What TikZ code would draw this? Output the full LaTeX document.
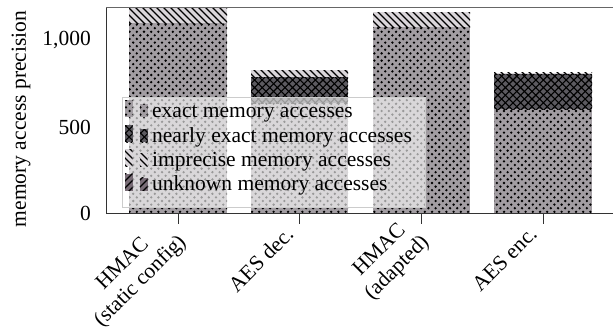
\documentclass[tikz,border=0pt]{standalone}
\usepackage{fontspec}
\setmainfont{Liberation Serif}
\usetikzlibrary{patterns}
\pgfdeclarepatternformonly{bigdots}{\pgfqpoint{-1.5pt}{-1.5pt}}{\pgfqpoint{5.1pt}{5.1pt}}{\pgfqpoint{7.2pt}{7.2pt}}{%
  \pgfpathcircle{\pgfqpoint{0pt}{0pt}}{1.3pt}%
  \pgfpathcircle{\pgfqpoint{3.6pt}{3.6pt}}{1.3pt}%
  \pgfusepath{fill}}
\pgfdeclarepatternformonly{bighatch}{\pgfqpoint{-1pt}{-1pt}}{\pgfqpoint{8.6pt}{8.6pt}}{\pgfqpoint{7.6pt}{7.6pt}}{%
  \pgfsetlinewidth{1.1pt}%
  \pgfpathmoveto{\pgfqpoint{0pt}{0pt}}\pgfpathlineto{\pgfqpoint{7.6pt}{7.6pt}}%
  \pgfpathmoveto{\pgfqpoint{0pt}{7.6pt}}\pgfpathlineto{\pgfqpoint{7.6pt}{0pt}}%
  \pgfusepath{stroke}}
\pgfdeclarepatternformonly{bignwlines}{\pgfqpoint{-1pt}{-1pt}}{\pgfqpoint{8pt}{8pt}}{\pgfqpoint{7pt}{7pt}}{%
  \pgfsetlinewidth{1.1pt}%
  \pgfpathmoveto{\pgfqpoint{0pt}{7pt}}\pgfpathlineto{\pgfqpoint{7pt}{0pt}}%
  \pgfusepath{stroke}}
\pgfdeclarepatternformonly{bignelines}{\pgfqpoint{-1pt}{-1pt}}{\pgfqpoint{8pt}{8pt}}{\pgfqpoint{7pt}{7pt}}{%
  \pgfsetlinewidth{1.1pt}%
  \pgfpathmoveto{\pgfqpoint{0pt}{0pt}}\pgfpathlineto{\pgfqpoint{7pt}{7pt}}%
  \pgfusepath{stroke}}
\definecolor{exactfill}{RGB}{162,157,162}
\definecolor{nearfill}{RGB}{92,90,96}
\definecolor{impfill}{RGB}{218,214,218}
\definecolor{unkfill}{RGB}{120,108,118}
\tikzset{
  exactbar/.style={fill=exactfill, postaction={pattern=bigdots, pattern color=black}},
  nearbar/.style={fill=nearfill, postaction={pattern=bighatch, pattern color=black}},
  impbar/.style={fill=impfill, postaction={pattern=bignwlines, pattern color=black}},
  unkbar/.style={fill=unkfill, postaction={pattern=bignelines, pattern color=black}},
  lbl/.style={font=\fontsize{21.5}{25}\selectfont, inner sep=0pt},
  xlbl/.style={lbl, rotate=45, anchor=north east, align=center},
  axisline/.style={draw=black!80, line width=0.8pt},
}
\begin{document}
\begin{tikzpicture}[x=1pt,y=-1pt]
\useasboundingbox (0,0) rectangle (613,327);
% bars
\fill[exactbar] (129,213) rectangle (227,23);
\fill[impbar]   (129,23) rectangle (227,7);
\fill[exactbar] (251,213) rectangle (348,103);
\fill[nearbar]  (251,103) rectangle (348,77);
\fill[impbar]   (251,77) rectangle (348,70);
\fill[exactbar] (373,213) rectangle (470,27);
\fill[impbar]   (373,27) rectangle (470,12);
\fill[exactbar] (494,213) rectangle (592,109);
\fill[nearbar]  (494,109) rectangle (592,74);
\fill[impbar]   (494,74) rectangle (592,72.5);
% axis
\coordinate (o) at (106,213);
\coordinate (tl) at (106,7);
\coordinate (br) at (613,213);
\coordinate (tr) at (613,7);
\draw[axisline] (tl) -- (o) -- (br);
\draw[draw=black!60, line width=0.8pt] (tl) -- (tr);
% x ticks
\foreach \x/\n in {178/a,299/b,421/c,543/d}{
  \coordinate (t\n) at (\x,224);
  \draw[black!80, line width=0.6pt] (\x,213) -- (t\n);
}
% y tick labels
\node[lbl, anchor=east] (y0) at (91,213) {0};
\node[lbl, anchor=east] (y500) at (91,127) {500};
\node[lbl, anchor=east] (y1000) at (91,40) {1,000};
\node[lbl, rotate=90] (ylab) at (21,119) {memory access precision};
% x tick labels
\node[xlbl] (la) at ([shift={(-19,-9)}]ta) {HMAC\\(static config)};
\node[xlbl] (lb) at ([shift={(-15,1)}]tb) {AES dec.};
\node[xlbl] (lc) at ([shift={(-19,-9)}]tc) {HMAC\\(adapted)};
\node[xlbl] (ld) at ([shift={(-15,1)}]td) {AES enc.};
% legend
\node[draw=black!20, fill=white, fill opacity=0.6, minimum width=303pt, minimum height=110pt, anchor=north west, line width=0.6pt] (leg) at (122,97) {};
\foreach \yy/\st/\tx in {117/exactbar/exact memory accesses, 142/nearbar/nearly exact memory accesses, 166/impbar/imprecise memory accesses, 190.5/unkbar/unknown memory accesses}{
  \fill[\st] (125,\yy) rectangle (132.5,\yy-17);
  \fill[\st] (140,\yy) rectangle (147.5,\yy-13);
  \node[lbl, anchor=base west] at (152,\yy) {\tx};
}
\end{tikzpicture}
\end{document}
